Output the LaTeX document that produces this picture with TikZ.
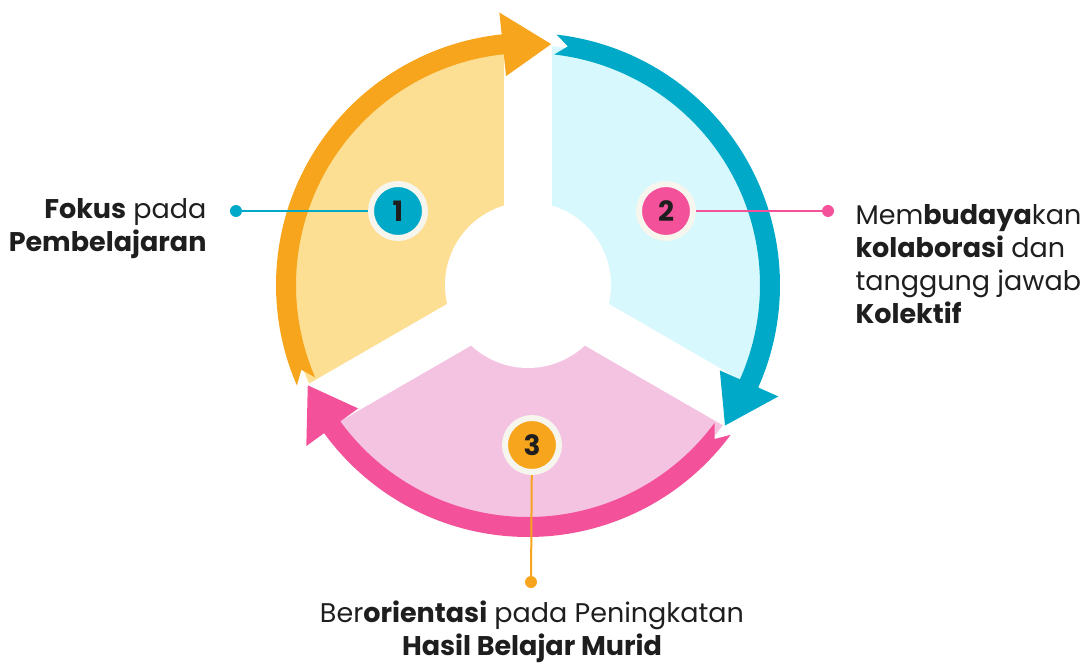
\documentclass[tikz,border=0pt]{standalone}
\usepackage{fontspec}
\setmainfont{Poppins}
\usetikzlibrary{positioning}
\definecolor{ringorange}{HTML}{F8A51E}
\definecolor{fillorange}{HTML}{FDDF94}
\definecolor{ringblue}{HTML}{00A9C7}
\definecolor{fillblue}{HTML}{D7F8FC}
\definecolor{ringpink}{HTML}{F4519B}
\definecolor{fillpink}{HTML}{F3C3E1}
\definecolor{rim}{HTML}{F6F5EE}
\definecolor{ink}{HTML}{1E1E1E}
\tikzset{x=1pt, y=1pt,
  badge/.style={circle, draw=rim, line width=6pt, minimum size=54pt, inner sep=0pt,
    text=ink, font=\fontsize{28}{28}\selectfont\bfseries},
  dot/.style={circle, inner sep=0pt, minimum size=12pt},
  desc/.style={text=ink, font=\fontsize{27}{33}\selectfont},
  pin/.style={line width=2pt}}

\begin{document}
\begin{tikzpicture}
    \useasboundingbox (-528,-379) rectangle (562,285);
    % sectors
    \fill[fillorange] (0,0) -- (90:240pt) arc[start angle=90, end angle=210, radius=240pt] -- cycle;
    \fill[fillblue] (0,0) -- (-30:240pt) arc[start angle=-30, end angle=90, radius=240pt] -- cycle;
    \fill[fillpink] (0,0) -- (210:240pt) arc[start angle=210, end angle=330, radius=240pt] -- cycle;
    \foreach \a in {90,210,330}
        \draw[white, line width=48pt] (0,0) -- (\a:250pt);
    \fill[white] (0,0) circle[radius=83pt];
    % ring arrows
    \foreach \tail/\base/\tip/\col in {203.5/96/84.5/ringorange, 83.5/-24/-35.5/ringblue, -36.5/-144/-155.5/ringpink}
        \fill[\col] (\tail:252pt) arc[start angle=\tail, end angle=\base, radius=252pt]
            -- (\base:274pt) -- (\tip:242pt) -- (\base:210pt) -- (\base:232pt)
            arc[start angle=\base, end angle=\tail, radius=232pt] -- ({\tail-3}:242pt) -- cycle;
    % badges and pins
    \node[dot, fill=ringblue] (d1) at (-292,74) {};
    \node[dot, fill=ringpink] (d2) at (300,74) {};
    \node[dot, fill=ringorange] (d3) at (3,-297) {};
    \draw[pin, ringblue] (-130,74) -- (d1);
    \draw[pin, ringpink] (138,74) -- (d2);
    \draw[pin, ringorange] (4,-160) -- (d3);
    \node[badge, fill=ringblue] (b1) at (-130,74) {1};
    \node[badge, fill=ringpink] (b2) at (138,74) {2};
    \node[badge, fill=ringorange] (b3) at (4,-160) {3};
    % texts
    \node[desc, anchor=east, align=right] (t1) at (-318,56) {\textbf{Fokus} pada\\\textbf{Pembelajaran}};
    \node[desc, anchor=west, align=left] (t2) at (324,21) {Mem\textbf{budaya}kan\\\textbf{kolaborasi} dan\\tanggung jawab\\\textbf{Kolektif}};
    \node[desc, align=center] (t3) at (4,-347) {Ber\textbf{orientasi} pada Peningkatan\\\textbf{Hasil Belajar Murid}};
\end{tikzpicture}
\end{document}
